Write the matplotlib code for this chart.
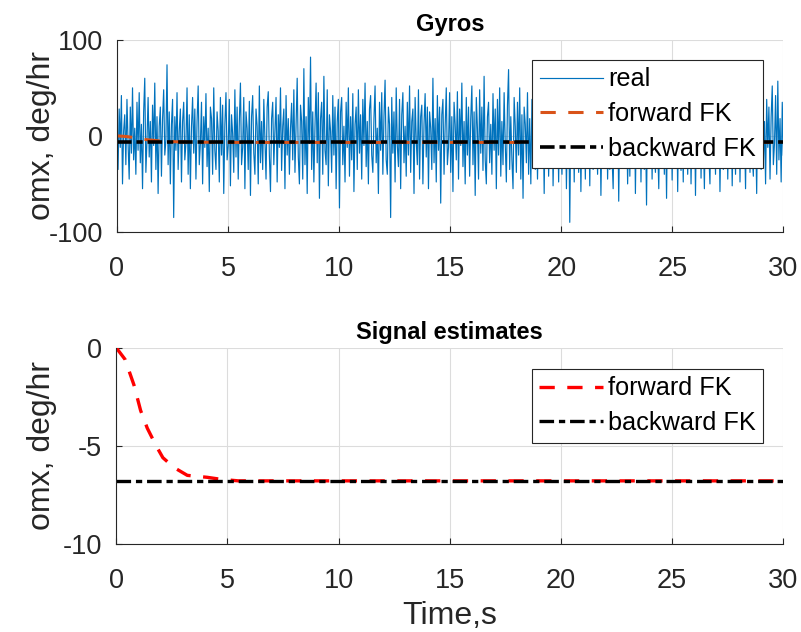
import numpy as np
import matplotlib.pyplot as plt

# gyro reading omx (deg/hr), 0.05 s step
omx_real = [
    10, -35, 28, -12, 42, -50, 5, 22, -30, 38, -8, -45, 30, -18, 50, -25, 8, -40, 35, -15,
    45, -28, 12, -55, 25, 60, -38, -5, 40, -22, 15, -48, 32, -10, 55, -35, 20, -60, 10, 30,
    -42, 18, 48, -20, -5, 74, -30, 25, -50, 12, 38, -85, 20, -15, 45, -35, 5, 28, -48, 15,
    35, -25, -8, 50, -40, 22, -55, 10, 40, -18, 28, -45, 15, 52, -30, -8, 35, -50, 20, -12,
    44, -32, 8, -58, 30, 18, -40, 50, -15, -35, 25, 5, -48, 40, -20, 32, -60, 12, 45, -25,
    -10, 38, -52, 22, 2, -38, 48, -22, 30, -45, 15, 55, -30, -12, 40, -55, 25, 8, -35, 36,
    -62, 20, 42, -18, -40, 28, 10, -50, 52, -28, 15, -35, 38, -5, -45, 30, 46, -20, -58, 18,
    35, -30, 5, 40, -48, 22, -12, 50, -36, 10, 28, -55, 42, -20, 18, -40, 8, 34, -25, 48,
    -38, 12, 60, -22, -50, 32, 15, -45, 70, -30, 20, -60, 40, -8, 82, -35, 25, -48, 10, 55,
    -28, 45, -65, 18, 35, -40, 62, -15, -30, 48, -52, 22, 5, -38, 42, -20, 30, -55, 15, 38,
    -75, 25, 40, -30, 10, -48, 35, -12, 50, -42, 20, -25, 44, -58, 12, 30, -35, 48, -18, 22,
    -45, 38, -10, 55, -32, 15, -50, 28, 42, -20, -38, 18, 52, -28, 8, -60, 35, -15, 45, -40,
    20, 58, -25, -40, 30, 12, -85, 40, -18, 25, -48, 50, -10, -32, 38, -55, 22, 45, -28, 10,
    -42, 35, -20, 52, -38, 15, 28, -60, 40, -5, -30, 48, -45, 20, 32, -50, 12, 44, -22, 30,
    -55, 25, 8, -35, 60, -28, 18, -48, 42, -15, 30, -70, 22, 38, -40, 10, 50, -30, -12, 45,
    -38, 20, -58, 35, 12, -25, 46, -45, 28, -10, 55, -32, 15, -50, 40, -20, 30, -42, 18, 52,
    -30, 25, -62, 40, 8, -45, 48, -18, 30, -36, 62, -25, -50, 20, 35, -28, 12, -40, 44, -15,
    28, -55, 38, -20, 50, -42, 15, -30, 45, -8, -48, 32, 69, -35, 20, -25, -55, 40, 10, -38,
    35, -20, 50, -45, 22, -65, 30, 12, -28, 45, -40, 18, -50, 38, -12, 55, -35, 25, -45, 15,
    -30, 42, -18, 28, -60, 35, -8, 48, -42, 20, -22, 38, -52, 12, 45, -30, 26, -48, 32, -10,
    -40, 48, -25, 30, -55, 18, 40, -90, 25, -15, 35, -48, 50, -30, 10, -38, 44, -58, 22, -12,
    30, -45, 38, -20, 26, -52, 42, -10, -35, 48, -28, 15, -40, 22, 36, -62, 18, -25, 40, -30,
    52, -45, 10, -35, 46, -22, -55, 30, 15, -20, 42, -68, 24, -8, 38, 50, -28, 12, 34, -50,
    20, -42, 36, -15, -30, 55, -60, 28, -5, -22, 45, -48, 32, 8, -35, 20, -72, 40, -26, 30,
    50, -45, 25, -18, -38, 44, -10, -55, 30, 15, -20, 48, -40, 22, -65, 38, 5, -30, 52, -46,
    26, -12, -25, 42, -58, 34, 10, -36, 20, -48, 46, -22, 28, -40, 12, 35, -50, 18, -30, 40,
    -62, 28, -15, -22, 50, -44, 35, 5, -55, 24, -32, 45, -18, -50, 30, 38, -26, 12, -40, 44,
    -20, 30, -58, 15, 40, -35, 22, -10, 48, -45, 26, -28, 36, -52, 18, 8, -40, 34, -30, 42,
    -48, 22, 38, -25, 10, -55, 44, -15, 28, -38, 50, -20, -42, 30, 12, -60, 36, -8, 25, -35,
    46, -28, 15, -50, 38, -12, 30, -45, 20, 52, -30, -8, 42, -40, 57, -25, 18, -48, 35, -20,
]
t_real = np.linspace(0, 30, len(omx_real))

# forward filter estimate (settles after ~5 s)
t_fwd = [0, 0.4, 0.8, 1.1, 1.4, 1.8, 2.1, 2.6, 3.2, 4.1, 4.7, 5.5, 30]
omx_fwd = [0, -0.6, -1.9, -3.2, -4.1, -5.0, -5.6, -6.1, -6.5, -6.6, -6.7, -6.78, -6.78]

# backward filter estimate (constant)
t_bwd = [0, 30]
omx_bwd = [-6.78, -6.78]

plt.rcParams['font.family'] = ['Liberation Sans', 'DejaVu Sans']
plt.rcParams['lines.scale_dashes'] = False
plt.rcParams['axes.unicode_minus'] = False

dark = '#262626'
dash_fwd = (0, (11, 9))
dash_bwd = (0, (10.5, 3.5, 4.5, 3.5))

fig = plt.figure(figsize=(8.01, 6.32), dpi=100)
ax1 = fig.add_axes([0.146, 0.633, 0.832, 0.304])
ax2 = fig.add_axes([0.145, 0.139, 0.833, 0.311])

ax1.plot(t_real, omx_real, color='#0072BD', lw=0.85, label='real')
ax1.plot(t_fwd, omx_fwd, color='#D95319', lw=2.2, linestyle=dash_fwd, label='forward FK')
ax1.plot(t_bwd, omx_bwd, color='black', lw=2.6, linestyle=dash_bwd, label='backward FK')
ax1.set_ylim(-100, 100)
ax1.set_yticks([-100, 0, 100])
ax1.set_title('Gyros', fontsize=17, fontweight='bold', pad=6)

ax2.plot(t_fwd, omx_fwd, color='red', lw=2.4, linestyle=dash_fwd, label='forward FK')
ax2.plot(t_bwd, omx_bwd, color='black', lw=2.4, linestyle=dash_bwd, label='backward FK')
ax2.set_ylim(-10, 0)
ax2.set_yticks([-10, -5, 0])
ax2.set_title('Signal estimates', fontsize=17, fontweight='bold', pad=6)
ax2.set_xlabel('Time,s', fontsize=23, color=dark, labelpad=5)

for ax, ytop, lx in [(ax1, 0.896, -0.09), (ax2, 0.892, -0.088)]:
    ax.set_xlim(0, 30)
    ax.set_xticks(range(0, 31, 5))
    ax.set_ylabel('omx, deg/hr', fontsize=23, color=dark)
    ax.yaxis.set_label_coords(lx, 0.5)
    ax.grid(True, color='#dcdcdc', lw=0.8)
    ax.set_axisbelow(True)
    ax.spines['top'].set_visible(False)
    ax.spines['right'].set_visible(False)
    for s in ['left', 'bottom']:
        ax.spines[s].set_color(dark)
        ax.spines[s].set_linewidth(0.8)
    ax.tick_params(direction='in', length=4, width=0.8, colors=dark, labelsize=19.5)
    ax.tick_params(axis='x', pad=17)
    ax.tick_params(axis='y', pad=10)
    leg = ax.legend(loc='upper left', bbox_to_anchor=(0.623, ytop), fontsize=18.2,
                    fancybox=False, edgecolor=dark, framealpha=1, borderpad=0.3,
                    handlelength=2.5, handletextpad=0.2, labelspacing=0.42, borderaxespad=0)
    leg.get_frame().set_linewidth(0.8)

fig.savefig('out.png', dpi=100)
